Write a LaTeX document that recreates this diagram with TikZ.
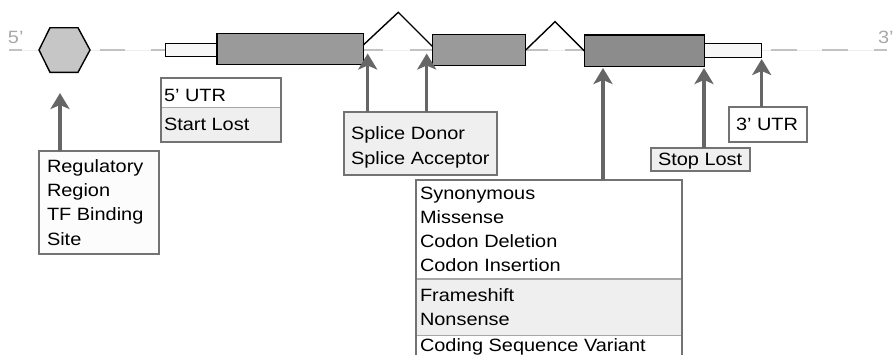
\documentclass[tikz,border=0pt]{standalone}
\usepackage{fontspec}
\setmainfont{Liberation Sans}[FakeStretch=1.12]
\usetikzlibrary{arrows.meta}
\definecolor{boxgray}{HTML}{737373}
\definecolor{arrgray}{HTML}{666666}
\definecolor{rowgray}{HTML}{EFEFEF}
\definecolor{divgray}{HTML}{A8A8A8}
\definecolor{exongray}{HTML}{9A9A9A}
\definecolor{exondark}{HTML}{8C8C8C}
\definecolor{hexgray}{HTML}{C6C6C6}
\definecolor{dashgray}{HTML}{C2C2C2}
\definecolor{faintgray}{HTML}{EDEDED}
\definecolor{endgray}{HTML}{A8A8A8}
\begin{document}
\begin{tikzpicture}[x=1pt,y=-1pt,
  lbl/.style={font=\fontsize{17.8}{24}\selectfont, inner sep=0pt, outer sep=0pt, anchor=base west, text=black},
  endlbl/.style={lbl, text=endgray},
  box/.style={draw=boxgray, line width=1.8pt, inner sep=0pt, outer sep=0pt, anchor=north west},
  exon/.style={draw=black, line width=1.4pt, inner sep=0pt, outer sep=0pt, anchor=north west},
  intron/.style={draw=black, line width=1.4pt, line join=miter},
  arr/.style={draw=arrgray, line width=3.3pt, -{Stealth[length=16pt,width=19pt,inset=4pt]}},
  dashseg/.style={draw=dashgray, line width=2pt},
  divider/.style={draw=divgray, line width=1.2pt}]
\useasboundingbox (0,0) rectangle (893,354);
\clip (0,0) rectangle (893,354);

% backbone line
\draw[draw=faintgray, line width=1pt] (9,50) -- (887,50);
\foreach \a/\b in {9/22, 100/125, 151/166, 363/383, 410/432, 526/548, 565/584, 771/797, 822/848, 874/887}
  \draw[dashseg] (\a,50) -- (\b,50);

% end labels
\node[endlbl] (five) at (8,43) {5’};
\node[endlbl] (three) at (878,43) {3’};

% UTRs and exons
\node[exon, fill=white!97!black, minimum width=51.3pt, minimum height=13.4pt] (utrA) at (165.7,43.3) {};
\node[exon, fill=white!97!black, minimum width=57.4pt, minimum height=14pt] (utrB) at (704.3,43.3) {};
\node[exon, fill=exongray, minimum width=146.3pt, minimum height=31pt] (ex1) at (217,33.5) {};
\node[exon, fill=exongray, minimum width=93pt, minimum height=31.4pt] (ex2) at (432.7,34.3) {};
\node[exon, fill=exondark, minimum width=120pt, minimum height=31.7pt] (ex3) at (584.3,35) {};

% introns
\coordinate (peak1) at (398.3,12.3);
\coordinate (peak2) at (555,21.7);
\draw[intron] ([yshift=-11.5pt]ex1.north east) -- (peak1) -- ([yshift=-12.4pt]ex2.north west);
\draw[intron] (ex2.east) -- (peak2) -- (ex3.west);

% regulatory hexagon
\draw[fill=hexgray, draw=black, line width=1.4pt, line join=miter]
  (39,50) -- (50,27.7) -- (78,27.7) -- (90,50) -- (78,72.3) -- (50,72.3) -- cycle;

% boxes
\node[box, fill=white!99!black, minimum width=120pt, minimum height=103.3pt] (reg) at (39,151) {};

\fill[rowgray] (161.3,107.5) rectangle (281,141.7);
\draw[divider] (161.3,107.5) -- (281,107.5);
\node[box, minimum width=119.7pt, minimum height=63.4pt] (utr5) at (161.3,78.3) {};

\node[box, fill=rowgray, minimum width=152.7pt, minimum height=63.3pt] (splice) at (344,112) {};

\fill[rowgray] (415.7,279) rectangle (681.7,335.5);
\draw[divider] (415.7,279) -- (681.7,279);
\draw[divider] (415.7,335.5) -- (681.7,335.5);
\node[box, minimum width=266pt, minimum height=190pt] (coding) at (415.7,180) {};

\node[box, fill=rowgray, minimum width=99.6pt, minimum height=23.3pt] (stop) at (650.7,147.7) {};
\node[box, fill=white, minimum width=77.4pt, minimum height=35pt] (utr3) at (729.3,106.7) {};

% arrow tips
\coordinate (tReg) at (60,93);
\coordinate (tDon) at (367.7,53.5);
\coordinate (tAcc) at (426.7,53.5);
\coordinate (tCod) at (603,68);
\coordinate (tStop) at (704,68);
\coordinate (tUtr) at (761.7,59);

\draw[arr] (reg.north -| tReg) -- (tReg);
\draw[arr] (splice.north -| tDon) -- (tDon);
\draw[arr] (splice.north -| tAcc) -- (tAcc);
\draw[arr] (coding.north -| tCod) -- (tCod);
\draw[arr] (stop.north -| tStop) -- (tStop);
\draw[arr] (utr3.north -| tUtr) -- (tUtr);

% texts
\node[lbl] (reg1) at (47,172.5) {Regulatory};
\node[lbl] (reg2) at (47,196.7) {Region};
\node[lbl] (reg3) at (47,220.9) {TF Binding};
\node[lbl] (reg4) at (47,245.1) {Site};

\node[lbl] (u5a) at (164,101.5) {5’ UTR};
\node[lbl] (u5b) at (164,130) {Start Lost};

\node[lbl] (sp1) at (351,139.5) {Splice Donor};
\node[lbl] (sp2) at (351,164.3) {Splice Acceptor};

\node[lbl] (c1) at (420,199.3) {Synonymous};
\node[lbl] (c2) at (420,223.5) {Missense};
\node[lbl] (c3) at (420,247.7) {Codon Deletion};
\node[lbl] (c4) at (420,271.9) {Codon Insertion};
\node[lbl] (c5) at (420,301) {Frameshift};
\node[lbl] (c6) at (420,325.2) {Nonsense};
\node[lbl] (c7) at (420,351) {Coding Sequence Variant};

\node[lbl] (st) at (658,165.7) {Stop Lost};
\node[lbl] (u3) at (736,130.7) {3’ UTR};
\end{tikzpicture}
\end{document}
